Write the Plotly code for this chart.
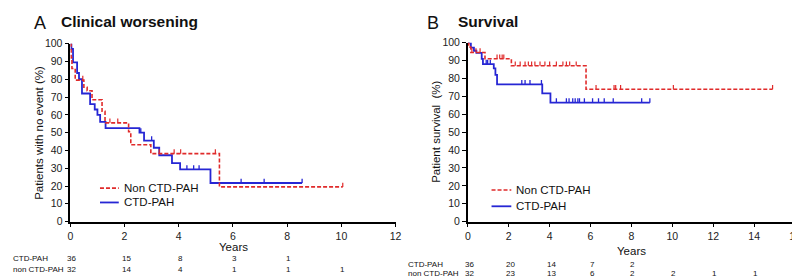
import plotly.graph_objects as go

# ---------------- Data ----------------
# Panel A: Clinical worsening (Kaplan-Meier, % with no event)
a_ctd_times = [0, 0.04, 0.1, 0.25, 0.32, 0.43, 0.73, 0.9, 1.0, 1.1, 1.3, 2.55, 2.72, 3.08, 3.28, 3.75, 4.05, 5.17]
a_ctd_surv = [100, 97, 89.5, 83.5, 80, 72, 66, 63, 60, 56, 52.5, 50, 45.5, 41.5, 37.3, 32.9, 29.3, 21.7]
a_ctd_end = 8.55
a_ctd_cens = [2.6, 3.0, 4.3, 4.55, 4.75, 6.3, 7.15, 8.55]

a_non_times = [0, 0.03, 0.06, 0.18, 0.5, 0.62, 0.8, 1.17, 1.28, 2.15, 2.23, 2.97, 5.5]
a_non_surv = [100, 92, 86, 79.5, 75.5, 73.5, 68.5, 62, 55.5, 50.5, 43.2, 38.2, 19.5]
a_non_end = 10.05
a_non_cens = [0.46, 1.46, 1.75, 3.28, 3.83, 4.07, 5.35, 10.05]

# Panel B: Survival
b_ctd_times = [0, 0.15, 0.3, 0.42, 0.68, 0.74, 1.27, 1.35, 1.43, 3.64, 4.04]
b_ctd_surv = [100, 97.3, 95.5, 94.3, 91, 88, 85.7, 82, 76.7, 71.7, 66.5]
b_ctd_end = 8.9
b_ctd_cens = [0.05, 0.9, 0.97, 1.1, 2.64, 2.8, 3.04, 3.6, 4.33, 4.82, 4.95, 5.13,
              5.25, 5.38, 5.46, 5.7, 6.1, 6.39, 6.67, 7.11, 8.5, 8.9]

b_non_times = [0, 0.05, 0.15, 0.84, 2.13, 5.78]
b_non_surv = [100, 97.5, 94.5, 91, 87.1, 74]
b_non_end = 14.9
b_non_cens = [0.2, 0.4, 0.6, 1.43, 1.56, 1.68, 1.76, 2.32, 2.56, 2.8, 2.96, 3.12, 3.28,
              3.53, 3.77, 4.0, 4.33, 4.65, 4.98, 4.82, 5.3, 6.27, 7.15, 7.23, 7.47, 10.05, 14.9]

# Numbers at risk
a_risk_times = [0, 2, 4, 6, 8, 10]
a_risk_ctd = [36, 15, 8, 3, 1, None]
a_risk_non = [32, 14, 4, 1, 1, 1]
b_risk_times = [0, 2, 4, 6, 8, 10, 12, 14]
b_risk_ctd = [36, 20, 14, 7, 2, None, None, None]
b_risk_non = [32, 23, 13, 6, 2, 2, 1, 1]

series_names = ["Non CTD-PAH", "CTD-PAH"]
risk_labels = ["CTD-PAH", "non CTD-PAH"]

# ---------------- Styling ----------------
RED = "#e02b2b"
BLUE = "#2626d4"
FONT = "Liberation Sans, Arial, sans-serif"
W, H = 800, 277


def px(x):
    return x / W


def py(y):
    return 1 - y / H


def surv_at(times, surv, t):
    s = surv[0]
    for ti, si in zip(times, surv):
        if ti <= t:
            s = si
    return s


def step_xy(times, surv, end):
    return list(times) + [end], list(surv) + [surv[-1]]


def cens_xy(times, surv, cens, h=2.4):
    xs, ys = [], []
    for c in cens:
        s = surv_at(times, surv, c)
        xs += [c, c, None]
        ys += [s, s + h, None]
    return xs, ys


fig = go.Figure()

panels = [
    ("x", "y", a_ctd_times, a_ctd_surv, a_ctd_end, a_ctd_cens,
     a_non_times, a_non_surv, a_non_end, a_non_cens),
    ("x2", "y2", b_ctd_times, b_ctd_surv, b_ctd_end, b_ctd_cens,
     b_non_times, b_non_surv, b_non_end, b_non_cens),
]

for xa, ya, ct, cs, ce, cc, nt, ns, ne, nc in panels:
    x, y = step_xy(ct, cs, ce)
    fig.add_trace(go.Scatter(x=x, y=y, mode="lines", line=dict(color=BLUE, width=1.8, shape="hv"),
                             xaxis=xa, yaxis=ya, showlegend=False, name=series_names[1]))
    x, y = cens_xy(ct, cs, cc)
    fig.add_trace(go.Scatter(x=x, y=y, mode="lines", line=dict(color=BLUE, width=1.3),
                             xaxis=xa, yaxis=ya, showlegend=False, hoverinfo="skip"))
    x, y = step_xy(nt, ns, ne)
    fig.add_trace(go.Scatter(x=x, y=y, mode="lines",
                             line=dict(color=RED, width=1.6, shape="hv", dash="4px,2px"),
                             xaxis=xa, yaxis=ya, showlegend=False, name=series_names[0]))
    x, y = cens_xy(nt, ns, nc)
    fig.add_trace(go.Scatter(x=x, y=y, mode="lines", line=dict(color=RED, width=1.2),
                             xaxis=xa, yaxis=ya, showlegend=False, hoverinfo="skip"))

axis_common = dict(showgrid=False, zeroline=False, showline=True, linecolor="black", linewidth=1.5,
                   ticks="outside", ticklen=4, tickwidth=1.3, tickcolor="black",
                   tickfont=dict(family=FONT, size=10.5, color="#222"))

fig.update_layout(
    width=W, height=H, margin=dict(l=0, r=0, t=0, b=0),
    paper_bgcolor="white", plot_bgcolor="white",
    xaxis=dict(domain=[px(60), px(389)], range=[0, 12], tickvals=[0, 2, 4, 6, 8, 10, 12],
               anchor="y", **axis_common),
    yaxis=dict(domain=[py(217), py(31)], range=[0, 100], tickvals=list(range(0, 101, 10)),
               anchor="x", **axis_common),
    xaxis2=dict(domain=[px(462), px(793)], range=[0, 16], tickvals=list(range(0, 17, 2)),
                anchor="y2", **axis_common),
    yaxis2=dict(domain=[py(217), py(30)], range=[0, 100], tickvals=list(range(0, 101, 10)),
                anchor="x2", **axis_common),
)

ann = []


def text(x, y, s, size, xanchor="left", bold=False, angle=0, xref="paper", color="#111", pad=1):
    ann.append(dict(x=x, y=y, xref=xref, yref="paper", text=("<b>%s</b>" % s) if bold else s,
                    showarrow=False, xanchor=xanchor, yanchor="middle", textangle=angle, borderpad=pad,
                    font=dict(family=FONT, size=size, color=color)))


# Panel titles
text(px(21), py(9), "A", 18)
text(px(49), py(8), "Clinical worsening", 15.5, bold=True)
text(px(419), py(9), "B", 18)
text(px(450), py(8), "Survival", 15.5, bold=True)

# Y-axis titles
text(px(27.5), py(124), "Patients with no event (%)", 11.5, xanchor="center", angle=-90)
text(px(429), py(123), "Patient survival&nbsp;&nbsp;(%)", 11.5, xanchor="center", angle=-90)

# X-axis titles
text(px(225), py(244), "Years", 11.5, xanchor="center")
text(px(628), py(248), "Years", 11.5, xanchor="center")

# Legends (manual)
for (x0, x1, tx, ys) in [(90, 109, 112, (182, 197)), (486, 506, 509, (184, 201))]:
    fig.add_shape(type="line", xref="paper", yref="paper", x0=px(x0), x1=px(x1), y0=py(ys[0]), y1=py(ys[0]),
                  line=dict(color=RED, width=1.6, dash="4px,2px"))
    fig.add_shape(type="line", xref="paper", yref="paper", x0=px(x0), x1=px(x1), y0=py(ys[1]), y1=py(ys[1]),
                  line=dict(color=BLUE, width=1.8))
    text(px(tx), py(ys[0]), series_names[0], 11.5)
    text(px(tx), py(ys[1]), series_names[1], 11.5)

# Risk tables
RISK_FONT = 8


def risk_row(times, vals, xref, ypix):
    for t, v in zip(times, vals):
        if v is not None:
            ann.append(dict(x=t, y=py(ypix), xref=xref, yref="paper", text=str(v), showarrow=False,
                            xanchor="center", yanchor="middle", xshift=1.5, borderpad=0,
                            font=dict(family=FONT, size=RISK_FONT, color="#111")))


text(px(1), py(256), risk_labels[0], RISK_FONT, pad=0)
text(px(1), py(267), risk_labels[1], RISK_FONT, pad=0)
risk_row(a_risk_times, a_risk_ctd, "x", 256)
risk_row(a_risk_times, a_risk_non, "x", 267)

text(px(401), py(262), risk_labels[0], RISK_FONT, pad=0)
text(px(401), py(271.3), risk_labels[1], RISK_FONT, pad=0)
risk_row(b_risk_times, b_risk_ctd, "x2", 262)
risk_row(b_risk_times, b_risk_non, "x2", 271.3)

fig.update_layout(annotations=ann)
fig.write_html("out.html")
